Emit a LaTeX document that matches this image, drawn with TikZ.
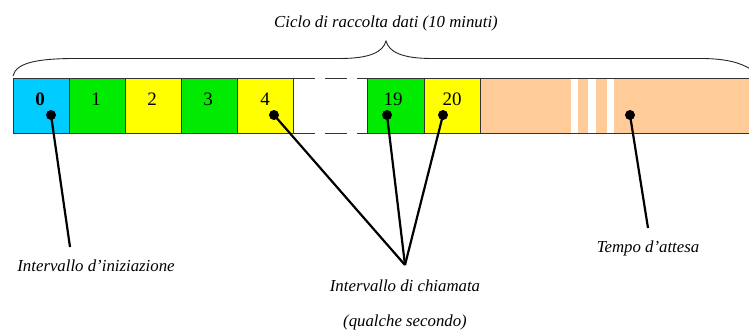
\documentclass[tikz,border=0pt]{standalone}
\usepackage{fontspec}
\setmainfont{Liberation Serif}
\begin{document}
\begin{tikzpicture}[x=1pt,y=-1pt,
  cell/.style={draw=black!80,line width=0.9pt,minimum width=56pt,minimum height=55pt,inner sep=0pt,anchor=north west},
  num/.style={font=\fontsize{19}{19}\selectfont,inner sep=0pt},
  lbl/.style={font=\fontsize{16.8}{18}\selectfont\itshape,inner sep=0pt},
  dot/.style={circle,fill=black,minimum size=10pt,inner sep=0pt},
  lead/.style={line width=2.2pt,black}]
\useasboundingbox (0,0) rectangle (749,331);
\definecolor{cyanc}{RGB}{0,204,255}
\definecolor{greenc}{RGB}{0,235,0}
\definecolor{yellowc}{RGB}{255,255,0}
\definecolor{peachc}{RGB}{255,204,153}
% peach region
\fill[peachc] (480,78) rectangle (749,133);
\fill[white] (571,76) rectangle (578,135);
\fill[white] (588,76) rectangle (596,135);
\fill[white] (607,76) rectangle (614,135);
\draw[black!80,line width=0.9pt] (480,78) -- (749,78) (480,133) -- (749,133);
% cells
\node[cell,fill=cyanc] (c0) at (13,78) {};
\node[cell,fill=greenc] (c1) at (69,78) {};
\node[cell,fill=yellowc] (c2) at (125,78) {};
\node[cell,fill=greenc] (c3) at (181,78) {};
\node[cell,fill=yellowc] (c4) at (237,78) {};
\node[cell,fill=greenc,minimum width=57pt] (c19) at (367,78) {};
\node[cell,fill=yellowc] (c20) at (424,78) {};
\draw[black!80,line width=0.9pt,dash pattern=on 22pt off 10pt] (293,78) -- (367,78) (293,133) -- (367,133);
% numbers
\node[num,font=\fontsize{19}{19}\selectfont\bfseries] at (40,99) {0};
\node[num] at (96,99) {1};
\node[num] at (152,99) {2};
\node[num] at (208,99) {3};
\node[num] at (265,99) {4};
\node[num] at (393,99) {19};
\node[num] at (452,99) {20};
% brace
\draw[line width=0.9pt,black!85] (13,76) .. controls (16,62) and (40,59) .. (70,58.5) -- (340,58.5) .. controls (370,58.5) and (383,52) .. (386,41) .. controls (389,52) and (402,58.5) .. (432,58.5) -- (704,58.5) .. controls (725,59) and (740,62) .. (752,70);
\node[lbl] (title) at (386,23) {Ciclo di raccolta dati (10 minuti)};
% dots
\node[dot] (d0) at (51,115) {};
\node[dot] (d4) at (274,115) {};
\node[dot] (d19) at (387,115) {};
\node[dot] (d20) at (443,115) {};
\node[dot] (dw) at (630,115) {};
% leader ends
\coordinate (e0) at (70,247);
\coordinate (ec) at (405,265);
\coordinate (ew) at (648,228);
\draw[lead] (d0.center) -- (e0);
\draw[lead] (d4.center) -- (ec);
\draw[lead] (d19.center) -- (ec);
\draw[lead] (d20.center) -- (ec);
\draw[lead] (dw.center) -- (ew);
% labels
\node[lbl] (l0) at (96,266) {Intervallo d’iniziazione};
\node[lbl] (lw) at (648,248) {Tempo d’attesa};
\node[lbl] (lc) at (405,286) {Intervallo di chiamata};
\node[lbl] (lc2) at (405,322) {(qualche secondo)};
\end{tikzpicture}
\end{document}
